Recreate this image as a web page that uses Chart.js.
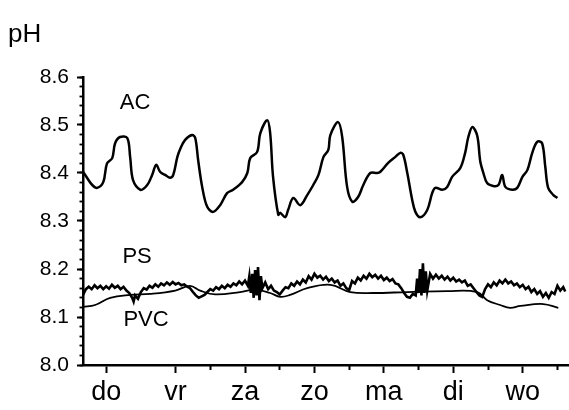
<!DOCTYPE html>
<html>
<head>
<meta charset="utf-8">
<script src="https://cdn.jsdelivr.net/npm/chart.js@4"></script>
<style>
  html, body { margin: 0; padding: 0; background: #fff; }
  #wrap { width: 569px; height: 410px; position: relative; }
</style>
</head>
<body>
<div id="wrap"><canvas id="chart"></canvas></div>
<script>
// hours from "do" (day labels sit every 24 h)
const dayLabels = ['do', 'vr', 'za', 'zo', 'ma', 'di', 'wo'];
const dayHours = [0, 24, 48, 72, 96, 120, 144];
const halfDayHours = [36, 60, 84, 108, 132, 156];
const yTickValues = [8.0, 8.1, 8.2, 8.3, 8.4, 8.5, 8.6];
const yMinorValues = [];
for (let i = 0; i <= 30; i++) yMinorValues.push(8 + i * 0.02);

const acHours = [-8, -6.6, -4.8, -3.1, -1.0, 0.3, 2.1, 3.1, 4.8, 7.3, 8.3, 9.3, 11.8, 14.2, 15.9, 17.3, 18.7, 20.4, 22.1, 23.2,
  24.6, 25.6, 27.3, 29.7, 30.8, 31.8, 33.2, 34.9, 37.0, 39.4, 41.8, 43.9, 47.0, 48.8, 49.8, 52.2, 53.3, 55.7, 56.7, 57.7,
  59.5, 60.2, 61.9, 62.9, 64.7, 67.1, 69.5, 71.6, 73.4, 75.1, 76.8, 77.5, 80.2, 81.6, 83.3, 85.1, 87.1, 88.9, 91.3, 93.7,
  94.7, 97.5, 99.9, 101.7, 102.7, 104.1, 105.8, 106.9, 108.6, 111.0, 112.7, 113.8, 116.2, 117.9, 119.6, 122.4, 124.1, 125.2, 126.6, 128.3,
  129.3, 130.4, 131.7, 133.8, 135.6, 136.9, 138.0, 140.4, 142.1, 143.9, 145.6, 147.3, 149.0, 150.7, 151.8, 152.8, 154.6, 156.0];
const acPH = [8.403, 8.39, 8.375, 8.369, 8.381, 8.42, 8.431, 8.462, 8.475, 8.473, 8.433, 8.385, 8.365, 8.375, 8.396, 8.417, 8.402, 8.396, 8.39, 8.396,
  8.433, 8.45, 8.469, 8.479, 8.473, 8.427, 8.371, 8.33, 8.319, 8.333, 8.358, 8.365, 8.381, 8.4, 8.431, 8.444, 8.483, 8.51, 8.483, 8.392,
  8.313, 8.317, 8.308, 8.323, 8.348, 8.333, 8.354, 8.375, 8.396, 8.433, 8.448, 8.479, 8.506, 8.475, 8.371, 8.34, 8.35, 8.375, 8.4, 8.4,
  8.402, 8.421, 8.433, 8.442, 8.438, 8.4, 8.344, 8.319, 8.308, 8.323, 8.358, 8.369, 8.365, 8.371, 8.392, 8.41, 8.442, 8.475, 8.496, 8.477,
  8.425, 8.4, 8.379, 8.373, 8.375, 8.396, 8.371, 8.365, 8.369, 8.392, 8.406, 8.442, 8.465, 8.462, 8.413, 8.369, 8.354, 8.348];

const psHours = [-8, -7, -6, -5, -4, -3, -2, -1, 0, 1, 2, 3, 4, 5, 6, 7, 8, 9, 9.5, 10, 11, 12, 13, 14, 15, 16, 17, 18, 19,
  20, 21, 22, 23, 24, 25, 26, 27, 28, 29, 30, 31, 32, 33, 34, 35, 36, 37, 38, 39, 40, 41, 42, 43, 44, 45, 46, 47, 48,
  49, 49.5, 50, 50.5, 51, 51.5, 52, 52.5, 53, 53.5, 54, 55, 56, 57, 58, 59, 60, 61, 62, 63, 64, 65, 66, 67, 68, 69,
  70, 71, 72, 73, 74, 75, 76, 77, 78, 79, 80, 81, 82, 83, 84, 85, 86, 87, 88, 89, 90, 91, 92, 93, 94, 95, 96, 97, 98, 99,
  100, 101, 102, 103, 104, 105, 106, 107, 107.5, 108, 108.5, 109, 109.5, 110, 110.5, 111, 112, 113, 114, 115, 116, 117, 118, 119,
  120, 121, 122, 123, 124, 125, 126, 127, 128, 129, 130, 131, 132, 133, 134, 135, 136, 137, 138, 139, 140, 141, 142, 143, 144,
  145, 146, 147, 148, 149, 150, 151, 152, 153, 154, 155, 156, 157, 158, 158.7];
const psPH = [8.146, 8.158, 8.163, 8.158, 8.166, 8.16, 8.165, 8.158, 8.164, 8.159, 8.167, 8.161, 8.165, 8.158, 8.163, 8.155, 8.15, 8.14, 8.132, 8.145, 8.138, 8.152, 8.16, 8.157, 8.165, 8.161, 8.168, 8.163, 8.17,
  8.166, 8.172, 8.167, 8.173, 8.168, 8.171, 8.166, 8.168, 8.163, 8.16, 8.152, 8.145, 8.14, 8.143, 8.146, 8.152, 8.158, 8.155, 8.162, 8.158, 8.165, 8.16, 8.167, 8.163, 8.17, 8.166, 8.174, 8.168, 8.176,
  8.165, 8.185, 8.15, 8.19, 8.14, 8.198, 8.145, 8.204, 8.135, 8.185, 8.16, 8.172, 8.158, 8.165, 8.155, 8.152, 8.147, 8.155, 8.162, 8.16, 8.17, 8.165, 8.174, 8.168, 8.178, 8.172,
  8.185, 8.178, 8.19, 8.182, 8.186, 8.178, 8.184, 8.175, 8.18, 8.172, 8.176, 8.165, 8.17, 8.16, 8.156, 8.175, 8.17, 8.182, 8.176, 8.186, 8.18, 8.19, 8.183, 8.188, 8.18, 8.186, 8.177, 8.182, 8.175, 8.179,
  8.17, 8.168, 8.16, 8.15, 8.142, 8.14, 8.148, 8.145, 8.18, 8.15, 8.2, 8.145, 8.212, 8.15, 8.195, 8.155, 8.19, 8.18, 8.188, 8.18, 8.186, 8.178, 8.184, 8.176,
  8.182, 8.174, 8.178, 8.172, 8.176, 8.165, 8.168, 8.16, 8.152, 8.145, 8.142, 8.158, 8.168, 8.162, 8.172, 8.166, 8.176, 8.17, 8.178, 8.17, 8.174, 8.166, 8.17, 8.162, 8.167,
  8.158, 8.163, 8.152, 8.158, 8.148, 8.154, 8.142, 8.15, 8.14, 8.152, 8.148, 8.165, 8.155, 8.162, 8.153];

const pvcHours = [-8, -3.8, 1.4, 8.3, 15.2, 23.9, 29, 32.5, 37.7, 46.3, 51.5, 56.7, 60.2, 63.6, 69.5, 77.5, 84.4, 92.3,
  104.1, 117.9, 128.3, 131.7, 136.2, 139.7, 143.2, 151.1, 156.3];
const pvcPH = [8.121, 8.125, 8.14, 8.146, 8.148, 8.155, 8.165, 8.155, 8.147, 8.152, 8.157, 8.15, 8.142, 8.146, 8.16, 8.167, 8.152, 8.15,
  8.152, 8.154, 8.152, 8.135, 8.125, 8.119, 8.123, 8.127, 8.119];

const seriesNames = ['AC', 'PS', 'PVC'];
const nameHours = [10, 10.7, 13.8];
const namePH = [8.545, 8.226, 8.094];

const FONT = 'Liberation Sans, Arial, Helvetica, sans-serif';
Chart.defaults.font.family = FONT;
Chart.defaults.color = '#000';

function toPoints(xs, ys) {
  return xs.map((x, i) => ({ x: x, y: ys[i] }));
}

const textPlugin = {
  id: 'texts',
  afterDraw(chart) {
    const ctx = chart.ctx;
    const xs = chart.scales.x, ys = chart.scales.y;
    ctx.save();
    ctx.fillStyle = '#000';
    ctx.textAlign = 'center';
    ctx.textBaseline = 'middle';
    ctx.font = '22px ' + FONT;
    for (let i = 0; i < seriesNames.length; i++) {
      ctx.fillText(seriesNames[i], xs.getPixelForValue(nameHours[i]), ys.getPixelForValue(namePH[i]));
    }
    ctx.textAlign = 'left';
    ctx.textBaseline = 'top';
    ctx.font = '26px ' + FONT;
    ctx.fillText('pH', 8, 22);
    ctx.restore();
  }
};

new Chart(document.getElementById('chart'), {
  type: 'line',
  data: {
    datasets: [
      { label: 'AC', data: toPoints(acHours, acPH), borderColor: '#000', borderWidth: 2.5, pointRadius: 0, tension: 0.35 },
      { label: 'PS', data: toPoints(psHours, psPH), borderColor: '#000', borderWidth: 2.6, pointRadius: 0, tension: 0 },
      { label: 'PVC', data: toPoints(pvcHours, pvcPH), borderColor: '#000', borderWidth: 1.8, pointRadius: 0, tension: 0.4 }
    ]
  },
  options: {
    responsive: true,
    maintainAspectRatio: false,
    animation: false,
    layout: { padding: { top: 77, left: 0, right: 0, bottom: 0 } },
    plugins: { legend: { display: false }, tooltip: { enabled: false } },
    scales: {
      x: {
        type: 'linear', position: 'bottom', min: -8, max: 160, weight: 1,
        afterBuildTicks: (axis) => { axis.ticks = dayHours.map(v => ({ value: v })); },
        afterFit: (axis) => { axis.height = 45; },
        grid: { drawOnChartArea: false, tickLength: 8, tickWidth: 2, tickColor: '#000' },
        border: { color: '#000', width: 2.5 },
        ticks: {
          autoSkip: false, maxRotation: 0, padding: 3, color: '#000',
          font: { size: 27 },
          callback: (value) => { const i = dayHours.indexOf(value); return i >= 0 ? dayLabels[i] : ''; }
        }
      },
      xMinor: {
        type: 'linear', position: 'bottom', min: -8, max: 160, weight: 0,
        afterBuildTicks: (axis) => { axis.ticks = halfDayHours.map(v => ({ value: v })); },
        afterFit: (axis) => { axis.height = 0; },
        grid: { drawOnChartArea: false, tickLength: 5, tickWidth: 2, tickColor: '#000' },
        border: { display: false },
        ticks: { display: false }
      },
      y: {
        type: 'linear', position: 'left', min: 8.0, max: 8.6, weight: 1,
        afterBuildTicks: (axis) => { axis.ticks = yTickValues.map(v => ({ value: v })); },
        afterFit: (axis) => { axis.width = 83; },
        grid: { drawOnChartArea: false, tickLength: 6, tickWidth: 2, tickColor: '#000' },
        border: { color: '#000', width: 2.5 },
        ticks: {
          padding: 8, color: '#000', font: { size: 21 },
          callback: (value) => value.toFixed(1)
        }
      },
      yMinor: {
        type: 'linear', position: 'left', min: 8.0, max: 8.6, weight: 0,
        afterBuildTicks: (axis) => { axis.ticks = yMinorValues.map(v => ({ value: v })); },
        afterFit: (axis) => { axis.width = 0; },
        grid: { drawOnChartArea: false, tickLength: 3.5, tickWidth: 1.8, tickColor: '#000' },
        border: { display: false },
        ticks: { display: false }
      }
    }
  },
  plugins: [textPlugin]
});
</script>
</body>
</html>
